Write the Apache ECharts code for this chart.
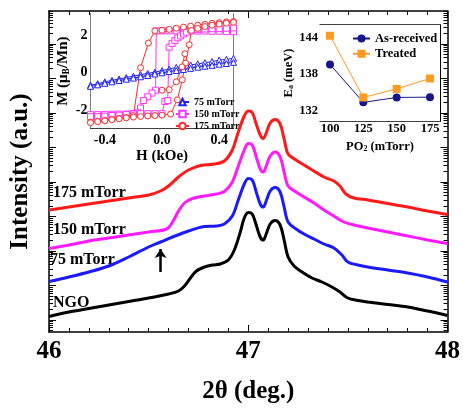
<!DOCTYPE html>
<html>
<head>
<meta charset="utf-8">
<script src="https://cdn.jsdelivr.net/npm/echarts@6/dist/echarts.min.js"></script>
<style>
  html, body { margin: 0; padding: 0; background: #fff; }
  #chart { width: 463px; height: 412px; }
</style>
</head>
<body>
<div id="chart"></div>
<script>
// ---- XRD scans, [2theta, intensity (a.u.)] ----
const ngo = [[46.00,15.5],[46.10,20],[46.20,23.5],[46.30,27],[46.40,30.5],[46.50,34],[46.60,38],[46.65,41],[46.68,46],[46.71,54],[46.74,61],[46.78,65],[46.82,67],[46.86,68],[46.90,72],[46.93,82],[46.96,100],[46.98,114],[47.00,119.5],[47.02,118],[47.04,107],[47.06,95],[47.075,92],[47.09,98],[47.11,108],[47.135,111.5],[47.16,107],[47.18,92],[47.20,75],[47.23,66],[47.27,60],[47.32,54],[47.37,50],[47.42,45],[47.46,40],[47.50,34],[47.55,31.5],[47.60,30],[47.70,27.5],[47.80,25],[47.90,21],[48.00,16.5]];
const torr75 = [[46.00,50.5],[46.10,55],[46.20,60],[46.30,66],[46.40,75],[46.50,85],[46.56,90],[46.62,95],[46.70,101],[46.78,105.5],[46.84,106],[46.88,108],[46.92,116],[46.95,132],[46.98,148],[47.00,153.5],[47.02,152],[47.04,140],[47.06,128],[47.075,125],[47.09,131],[47.11,141],[47.135,144.5],[47.16,140],[47.18,125],[47.20,110],[47.24,103],[47.28,98],[47.33,93],[47.38,88],[47.43,84],[47.47,77],[47.50,70],[47.55,67],[47.60,65],[47.70,62],[47.80,59],[47.90,55],[48.00,50]];
const torr150 = [[46.00,83.5],[46.10,87],[46.20,91],[46.30,94],[46.40,97],[46.50,100],[46.59,103],[46.62,110],[46.65,121],[46.68,129],[46.72,133.5],[46.78,136],[46.84,138],[46.88,140.5],[46.92,150],[46.95,166],[46.98,182],[47.00,188.5],[47.02,187],[47.04,175],[47.06,163],[47.075,160],[47.09,166],[47.11,176],[47.135,180],[47.16,175],[47.18,160],[47.20,146],[47.24,140],[47.28,135],[47.33,129],[47.38,122],[47.43,116],[47.48,110],[47.53,107],[47.60,104],[47.70,100],[47.80,96],[47.90,92],[48.00,88.5]];
const torr175 = [[46.00,122],[46.10,125],[46.20,128],[46.30,131],[46.40,134],[46.50,137],[46.56,141],[46.60,146],[46.65,155],[46.70,162],[46.76,166.5],[46.83,168],[46.88,171],[46.92,182],[46.95,200],[46.98,216],[47.00,221],[47.02,219.5],[47.04,208],[47.06,197],[47.075,193.5],[47.09,199],[47.11,209],[47.135,212.5],[47.16,208],[47.18,193],[47.20,178],[47.24,172],[47.28,167],[47.33,161],[47.38,155],[47.43,151],[47.46,146],[47.49,138],[47.53,134],[47.60,132],[47.70,128.5],[47.80,125],[47.90,121],[48.00,117.5]];
const arrowAt = [46.56, 60, 83]; // x, tail, head

// ---- inset: M(H) loops, [H (kOe), M (muB/Mn)] ----
const m75 = [[0.50,0.76],[0.45,0.70],[0.40,0.66],[0.35,0.58],[0.30,0.52],[0.25,0.46],[0.20,0.40],[0.15,0.33],[0.10,0.27],[0.05,0.18],[0.00,0.10],[-0.05,0.02],[-0.10,-0.05],[-0.15,-0.12],[-0.20,-0.20],[-0.25,-0.27],[-0.30,-0.35],[-0.35,-0.42],[-0.40,-0.50],[-0.45,-0.60],[-0.50,-0.68],
  [-0.50,-0.74],[-0.45,-0.66],[-0.40,-0.58],[-0.35,-0.50],[-0.30,-0.43],[-0.25,-0.36],[-0.20,-0.30],[-0.15,-0.23],[-0.10,-0.16],[-0.05,-0.08],[0.00,-0.02],[0.05,0.05],[0.10,0.10],[0.15,0.16],[0.20,0.22],[0.25,0.28],[0.30,0.33],[0.35,0.38],[0.40,0.44],[0.45,0.48],[0.50,0.54]];
const m150 = [[0.50,2.17],[0.45,2.18],[0.40,2.20],[0.35,2.20],[0.30,2.21],[0.25,2.21],[0.20,2.21],[0.15,2.22],[0.10,2.22],[0.05,2.22],[0.00,2.22],[-0.04,2.22],[-0.045,-0.95],[-0.07,-1.10],[-0.10,-1.30],[-0.13,-1.50],[-0.15,-1.90],[-0.17,-2.15],[-0.20,-2.20],[-0.25,-2.22],[-0.30,-2.22],[-0.35,-2.23],[-0.40,-2.24],[-0.45,-2.25],[-0.50,-2.25],
  [-0.50,-2.36],[-0.45,-2.35],[-0.40,-2.33],[-0.35,-2.30],[-0.30,-2.28],[-0.25,-2.25],[-0.20,-2.22],[-0.15,-2.20],[-0.10,-2.20],[-0.05,-2.20],[0.00,-2.20],[0.02,-1.55],[0.04,-1.50],[0.05,1.35],[0.07,1.55],[0.09,1.70],[0.11,1.85],[0.13,1.95],[0.15,2.05],[0.17,2.15],[0.20,2.28],[0.25,2.30],[0.30,2.32],[0.35,2.34],[0.40,2.35],[0.45,2.36],[0.50,2.38]];
const m175 = [[0.50,2.72],[0.45,2.70],[0.40,2.66],[0.35,2.62],[0.30,2.57],[0.25,2.52],[0.20,2.47],[0.15,2.42],[0.10,2.36],[0.05,2.30],[0.00,2.25],[-0.05,2.22],[-0.095,1.57],[-0.15,0.25],[-0.20,-2.30],[-0.25,-2.40],[-0.30,-2.45],[-0.35,-2.50],[-0.40,-2.56],[-0.45,-2.60],[-0.50,-2.65],
  [-0.50,-2.68],[-0.45,-2.62],[-0.40,-2.58],[-0.35,-2.52],[-0.30,-2.47],[-0.25,-2.42],[-0.20,-2.38],[-0.15,-2.35],[-0.10,-2.32],[-0.05,-2.30],[0.00,-2.28],[0.06,-2.22],[0.107,-1.46],[0.142,-0.39],[0.165,0.50],[0.19,1.48],[0.206,2.24],[0.25,2.35],[0.30,2.45],[0.35,2.52],[0.40,2.58],[0.45,2.63],[0.50,2.68]];
const m175b = [[0.00,-0.95],[0.05,-0.92],[0.10,-0.50],[0.14,0.30],[0.16,1.00]];

// ---- inset: activation energy ----
const po2 = [100, 125, 150, 175];
const eaAsReceived = [139.6, 133.4, 134.2, 134.25];
const eaTreated = [144.3, 134.2, 135.6, 137.3];

// tick labels
const hLabels = [-0.4, 0, 0.4];
const mLabels = [-2, 0, 2];
const po2Labels = [100, 125, 150, 175];
const eaLabels = [132, 138, 144];

const FONT = '"Liberation Serif", "Times New Roman", serif';

// log-style ticks of the main intensity axis (decades)
const decades = [0, 1, 2, 3, 4, 5, 6, 7, 8];
const LMIN = -0.348, LMAX = 8.956;
let minorL = [];
for (let d = -1; d <= 8; d++) {
  for (let k = 2; k <= 9; k++) {
    let v = d + Math.log10(k);
    if (v > LMIN && v < LMAX) minorL.push(+v.toFixed(4));
  }
}

function ticksEvery(a, b, step) {
  let out = [];
  for (let v = a; v <= b + 1e-9; v += step) out.push(+v.toFixed(4));
  return out;
}

const pairs = (xs, ys) => xs.map((x, i) => [x, ys[i]]);

var myChart = echarts.init(document.getElementById('chart'));

const lineBlack = { show: true, onZero: false, lineStyle: { color: '#000', width: 1.5 } };
const lineThin = { show: true, onZero: false, lineStyle: { color: '#000', width: 1 } };

function tickAxisY(pos, custom, len, withLine) {
  return {
    type: 'value', gridIndex: 0, position: pos, min: LMIN, max: LMAX,
    axisLine: withLine ? lineBlack : { show: false, onZero: false },
    axisTick: { show: true, inside: true, length: len, customValues: custom, lineStyle: { color: '#000', width: 1 } },
    axisLabel: { show: false }, splitLine: { show: false }
  };
}

function xrdSeries(name, data, color) {
  return {
    name: name, type: 'line', xAxisIndex: 0, yAxisIndex: 0, data: data,
    smooth: 0.35, showSymbol: false, lineStyle: { color: color, width: 3 }, z: 3
  };
}

function loopSeries(name, data, color, symbol) {
  return {
    name: name, type: 'line', xAxisIndex: 2, yAxisIndex: 5, data: data,
    symbol: symbol, symbolSize: 6, showSymbol: true,
    itemStyle: { color: '#fff', borderColor: color, borderWidth: 1 },
    lineStyle: { color: color, width: 1 }, z: 5
  };
}

const option = {
  animation: false,
  backgroundColor: '#fff',
  textStyle: { fontFamily: FONT },
  grid: [
    { left: 48, top: 11, width: 400, height: 321 },
    { left: 90.5, top: 14, width: 143, height: 114.3, show: true, backgroundColor: '#fff', borderWidth: 0, z: 4 },
    { left: 320, top: 24.7, width: 120, height: 96.6, show: true, backgroundColor: '#fff', borderWidth: 0, z: 4 }
  ],
  legend: [
    {
      data: ['75 mTorr', '150 mTorr', '175 mTorr'], orient: 'vertical', left: 175, top: 97,
      itemWidth: 13, itemHeight: 8, itemGap: 2, padding: 0,
      textStyle: { fontFamily: FONT, fontWeight: 'bold', fontSize: 10, lineHeight: 9, color: '#000' }
    },
    {
      data: ['As-received', 'Treated'], orient: 'vertical', left: 352, top: 32,
      itemWidth: 17, itemHeight: 10, itemGap: 2.3, padding: 0,
      textStyle: { fontFamily: FONT, fontWeight: 'bold', fontSize: 12.5, lineHeight: 12, color: '#000' }
    }
  ],
  xAxis: [
    // main, bottom
    {
      type: 'value', gridIndex: 0, min: 46, max: 48, interval: 1,
      name: '2θ (deg.)', nameLocation: 'middle', nameGap: 47,
      nameTextStyle: { fontFamily: FONT, fontWeight: 'bold', fontSize: 25, color: '#000' },
      axisLine: lineBlack,
      axisTick: { inside: true, length: 7, lineStyle: { color: '#000' } },
      minorTick: { show: true, splitNumber: 10, length: 4, lineStyle: { color: '#000' } },
      axisLabel: { fontFamily: FONT, fontWeight: 'bold', fontSize: 25, color: '#000', margin: 7 },
      splitLine: { show: false }
    },
    // main, top
    {
      type: 'value', gridIndex: 0, position: 'top', min: 46, max: 48, interval: 1,
      axisLine: lineBlack,
      axisTick: { inside: true, length: 7, lineStyle: { color: '#000' } },
      minorTick: { show: true, splitNumber: 10, length: 4, lineStyle: { color: '#000' } },
      axisLabel: { show: false }, splitLine: { show: false }
    },
    // M(H) inset, bottom
    {
      type: 'value', gridIndex: 1, min: -0.5, max: 0.5,
      name: 'H (kOe)', nameLocation: 'middle', nameGap: 20,
      nameTextStyle: { fontFamily: FONT, fontWeight: 'bold', fontSize: 15, color: '#000' },
      axisLine: lineThin,
      axisTick: { inside: true, length: 3, customValues: ticksEvery(-0.5, 0.5, 0.1), lineStyle: { color: '#000' } },
      axisLabel: { customValues: hLabels, formatter: v => v.toFixed(1), fontFamily: FONT, fontWeight: 'bold', fontSize: 14, color: '#000', margin: 5 },
      splitLine: { show: false }
    },
    // M(H) inset, top
    {
      type: 'value', gridIndex: 1, position: 'top', min: -0.5, max: 0.5,
      axisLine: lineThin,
      axisTick: { inside: true, length: 3, customValues: ticksEvery(-0.5, 0.5, 0.1), lineStyle: { color: '#000' } },
      axisLabel: { show: false }, splitLine: { show: false }
    },
    // Ea inset, bottom
    {
      type: 'value', gridIndex: 2, min: 92.5, max: 182.5,
      name: '{a|PO}{b|2}{a| (mTorr)}', nameLocation: 'middle', nameGap: 18,
      nameTextStyle: {
        rich: {
          a: { fontFamily: FONT, fontWeight: 'bold', fontSize: 12.5, lineHeight: 14, color: '#000' },
          b: { fontFamily: FONT, fontWeight: 'bold', fontSize: 8, lineHeight: 8, verticalAlign: 'bottom', color: '#000' }
        }
      },
      axisLine: lineThin,
      axisTick: { inside: true, length: 2, customValues: ticksEvery(100, 175, 12.5), lineStyle: { color: '#000' } },
      axisLabel: { customValues: po2Labels, fontFamily: FONT, fontWeight: 'bold', fontSize: 12.5, color: '#000', margin: 1 },
      splitLine: { show: false }
    },
    // Ea inset, top
    {
      type: 'value', gridIndex: 2, position: 'top', min: 92.5, max: 182.5,
      axisLine: lineThin,
      axisTick: { inside: true, length: 2, customValues: ticksEvery(100, 175, 12.5), lineStyle: { color: '#000' } },
      axisLabel: { show: false }, splitLine: { show: false }
    }
  ],
  yAxis: [
    // 0: intensity scale used by the scans
    { type: 'value', gridIndex: 0, min: 0, max: 321, show: false },
    // 1-4: decade ticks, left and right
    Object.assign(tickAxisY('left', decades, 7, true), {
      name: 'Intensity (a.u.)', nameLocation: 'middle', nameGap: 16,
      nameTextStyle: { fontFamily: FONT, fontWeight: 'bold', fontSize: 25, color: '#000' }
    }),
    tickAxisY('left', minorL, 4, false),
    tickAxisY('right', decades, 7, true),
    tickAxisY('right', minorL, 4, false),
    // 5: M(H) inset, left
    {
      type: 'value', gridIndex: 1, min: -2.98, max: 3.12,
      name: '{a|M (μ}{b|B}{a|/Mn)}', nameLocation: 'middle', nameGap: 19,
      nameTextStyle: {
        rich: {
          a: { fontFamily: FONT, fontWeight: 'bold', fontSize: 15, lineHeight: 17, color: '#000' },
          b: { fontFamily: FONT, fontWeight: 'bold', fontSize: 9.5, lineHeight: 9, verticalAlign: 'bottom', color: '#000' }
        }
      },
      axisLine: lineThin,
      axisTick: { inside: true, length: 3, customValues: [-2, -1, 0, 1, 2, 3], lineStyle: { color: '#000' } },
      axisLabel: { customValues: mLabels, fontFamily: FONT, fontWeight: 'bold', fontSize: 14, color: '#000', margin: 3 },
      splitLine: { show: false }
    },
    // 6: M(H) inset, right
    {
      type: 'value', gridIndex: 1, position: 'right', min: -2.98, max: 3.12,
      axisLine: lineThin,
      axisTick: { inside: true, length: 3, customValues: [-2, -1, 0, 1, 2, 3], lineStyle: { color: '#000' } },
      axisLabel: { show: false }, splitLine: { show: false }
    },
    // 7: Ea inset, left
    {
      type: 'value', gridIndex: 2, min: 130.3, max: 146.1,
      name: '{a|E}{b|a}{a| (meV)}', nameLocation: 'middle', nameGap: 20,
      nameTextStyle: {
        rich: {
          a: { fontFamily: FONT, fontWeight: 'bold', fontSize: 12.5, lineHeight: 14, color: '#000' },
          b: { fontFamily: FONT, fontWeight: 'bold', fontSize: 8, lineHeight: 8, verticalAlign: 'bottom', color: '#000' }
        }
      },
      axisLine: lineThin,
      axisTick: { inside: true, length: 2, customValues: [132, 135, 138, 141, 144], lineStyle: { color: '#000' } },
      axisLabel: { customValues: eaLabels, fontFamily: FONT, fontWeight: 'bold', fontSize: 12.5, color: '#000', margin: 2 },
      splitLine: { show: false }
    },
    // 8: Ea inset, right
    {
      type: 'value', gridIndex: 2, position: 'right', min: 130.3, max: 146.1,
      axisLine: lineThin,
      axisTick: { inside: true, length: 2, customValues: [132, 135, 138, 141, 144], lineStyle: { color: '#000' } },
      axisLabel: { show: false }, splitLine: { show: false }
    }
  ],
  series: [
    xrdSeries('NGO', ngo, '#000000'),
    Object.assign(xrdSeries('XRD 75 mTorr', torr75, '#1a1aff'), {
      markLine: {
        silent: true, symbol: ['none', 'arrow'], symbolSize: [9, 9],
        label: { show: false },
        lineStyle: { color: '#000', width: 2.5, type: 'solid' },
        data: [[{ coord: [arrowAt[0], arrowAt[1]] }, { coord: [arrowAt[0], arrowAt[2]] }]]
      }
    }),
    xrdSeries('XRD 150 mTorr', torr150, '#ff1aff'),
    xrdSeries('XRD 175 mTorr', torr175, '#ff1a1a'),

    loopSeries('75 mTorr', m75, '#2020ff', 'triangle'),
    loopSeries('150 mTorr', m150, '#ff33ff', 'rect'),
    loopSeries('175 mTorr', m175, '#ff2a2a', 'circle'),
    loopSeries('175 mTorr', m175b, '#ff2a2a', 'circle'),

    {
      name: 'As-received', type: 'line', xAxisIndex: 4, yAxisIndex: 7,
      data: pairs(po2, eaAsReceived), symbol: 'circle', symbolSize: 8,
      itemStyle: { color: '#16168a' }, lineStyle: { color: '#16168a', width: 1 }, z: 5
    },
    {
      name: 'Treated', type: 'line', xAxisIndex: 4, yAxisIndex: 7,
      data: pairs(po2, eaTreated), symbol: 'rect', symbolSize: 8,
      itemStyle: { color: '#ff9a22' }, lineStyle: { color: '#ff9a22', width: 1 }, z: 5
    }
  ],
  // sample names next to the scans
  graphic: [
    { type: 'text', left: 53, top: 185, style: { text: '175 mTorr', font: 'bold 16px ' + FONT, fill: '#000' } },
    { type: 'text', left: 53, top: 222, style: { text: '150 mTorr', font: 'bold 16px ' + FONT, fill: '#000' } },
    { type: 'text', left: 50, top: 252, style: { text: '75 mTorr', font: 'bold 16px ' + FONT, fill: '#000' } },
    { type: 'text', left: 53, top: 295, style: { text: 'NGO', font: 'bold 16px ' + FONT, fill: '#000' } }
  ]
};

myChart.setOption(option);
</script>
</body>
</html>
